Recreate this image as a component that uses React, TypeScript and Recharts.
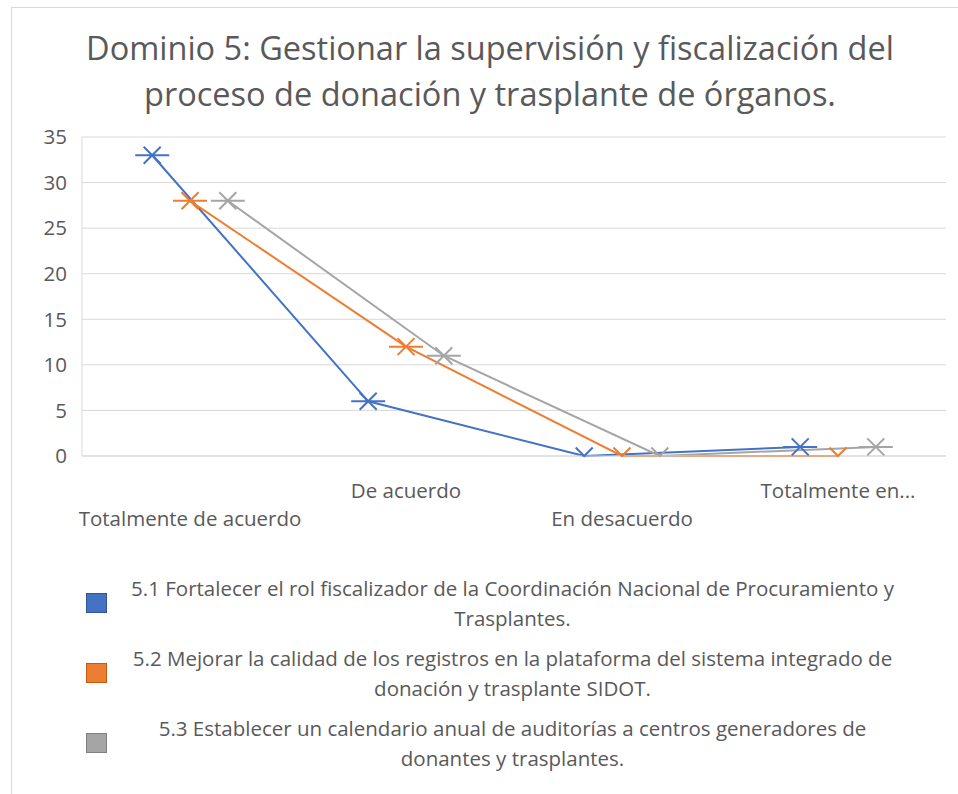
import { LineChart, Line, XAxis, YAxis, CartesianGrid } from 'recharts';

const categories = ['Totalmente de acuerdo', 'De acuerdo', 'En desacuerdo', 'Totalmente en...'];
const serie51 = [33, 6, 0, 1];
const serie52 = [28, 12, 0, 0];
const serie53 = [28, 11, 0, 1];
const seriesNames = [
  '5.1 Fortalecer el rol fiscalizador de la Coordinación Nacional de Procuramiento y\nTrasplantes.',
  '5.2 Mejorar la calidad de los registros en la plataforma del sistema integrado de\ndonación y trasplante SIDOT.',
  '5.3 Establecer un calendario anual de auditorías a centros generadores de\ndonantes y trasplantes.',
];
const yTicks = [0, 5, 10, 15, 20, 25, 30, 35];
const title = 'Dominio 5: Gestionar la supervisión y fiscalización del\nproceso de donación y trasplante de órganos.';

const TEXT = '#595959';
const GRID = '#d9d9d9';
const FONT_SIZE = 20.5;

// each series sits a bit left / centre / right inside its category, like the original
const SERIES = [
  { name: seriesNames[0], values: serie51, color: '#4472C4', border: '#2F5597', shift: -0.175 },
  { name: seriesNames[1], values: serie52, color: '#ED7D31', border: '#C55A11', shift: 0 },
  { name: seriesNames[2], values: serie53, color: '#A5A5A5', border: '#7F7F7F', shift: 0.175 },
];

function StarDot(props: any) {
  const { cx, cy, stroke, payload, index } = props;
  if (cx == null || cy == null) return null;
  const a = 8.5;
  const h = 17;
  // points sitting on zero get clipped by the plot area: only the upper half shows
  if (payload.y === 0) {
    return (
      <g key={`dot-${index}`} stroke={stroke} strokeWidth={2} fill="none">
        <path d={`M${cx - a},${cy - a}L${cx},${cy}L${cx + a},${cy - a}`} />
      </g>
    );
  }
  return (
    <g key={`dot-${index}`} stroke={stroke} strokeWidth={2} fill="none">
      <path d={`M${cx - a},${cy - a}L${cx + a},${cy + a}M${cx - a},${cy + a}L${cx + a},${cy - a}M${cx - h},${cy}L${cx + h},${cy}`} />
    </g>
  );
}

function CategoryTick(props: any) {
  const { x, y, payload, index } = props;
  const label = categories[Math.round(payload.value - 0.5)];
  const dy = index % 2 === 0 ? 68 : 40;
  return (
    <text x={x} y={y + dy} textAnchor="middle" fill={TEXT} fontSize={FONT_SIZE}>
      {label}
    </text>
  );
}

export default function App() {
  return (
    <div
      style={{
        position: 'absolute',
        left: 0,
        top: 0,
        width: 958,
        height: 794,
        overflow: 'hidden',
        background: '#fff',
        fontFamily: '"Open Sans", sans-serif',
      }}
    >
      <div
        style={{
          position: 'absolute',
          left: 11,
          top: 7,
          width: 960,
          height: 800,
          borderTop: `1px solid ${GRID}`,
          borderLeft: `1px solid ${GRID}`,
        }}
      />
      <div
        style={{
          position: 'absolute',
          left: 40,
          top: 25,
          width: 900,
          textAlign: 'center',
          fontSize: 32.5,
          lineHeight: '46px',
          color: TEXT,
          whiteSpace: 'pre-line',
        }}
      >
        {title}
      </div>

      <div style={{ position: 'absolute', left: 0, top: 0 }}>
        <LineChart width={958} height={560} margin={{ top: 137, right: 12, left: 0, bottom: 34 }}>
          <CartesianGrid vertical={false} stroke={GRID} />
          <XAxis
            type="number"
            dataKey="x"
            domain={[0, categories.length]}
            ticks={categories.map((_, i) => i + 0.5)}
            interval={0}
            axisLine={{ stroke: GRID }}
            tickLine={false}
            tickSize={0}
            height={70}
            tick={<CategoryTick />}
            allowDataOverflow
          />
          <YAxis
            domain={[0, 35]}
            ticks={yTicks}
            axisLine={{ stroke: GRID }}
            tickLine={false}
            tickSize={0}
            tickMargin={15}
            width={82}
            tick={{ fill: TEXT, fontSize: FONT_SIZE }}
          />
          {SERIES.map((s) => (
            <Line
              key={s.name}
              data={s.values.map((v, i) => ({ x: i + 0.5 + s.shift, y: v }))}
              dataKey="y"
              name={s.name}
              stroke={s.color}
              strokeWidth={2}
              dot={<StarDot />}
              activeDot={false}
              isAnimationActive={false}
            />
          ))}
        </LineChart>
      </div>

      {SERIES.map((s, i) => (
        <div key={s.name} style={{ position: 'absolute', left: 0, top: 573 + i * 70, width: 958, height: 60 }}>
          <div
            style={{
              position: 'absolute',
              left: 86,
              top: 20,
              width: 19,
              height: 18,
              background: s.color,
              border: `1px solid ${s.border}`,
            }}
          />
          <div
            style={{
              position: 'absolute',
              left: 120,
              top: 0,
              width: 785,
              textAlign: 'center',
              fontSize: FONT_SIZE,
              lineHeight: '30px',
              color: TEXT,
              whiteSpace: 'pre-line',
            }}
          >
            {s.name}
          </div>
        </div>
      ))}
    </div>
  );
}
